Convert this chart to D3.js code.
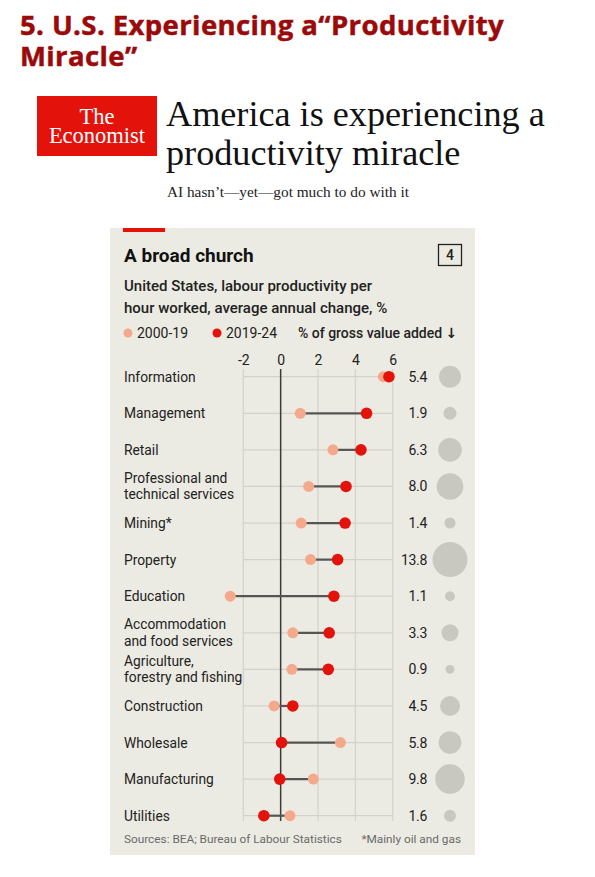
<!DOCTYPE html>
<html>
<head>
<meta charset="utf-8">
<script src="https://cdn.jsdelivr.net/npm/d3@7"></script>
<style>
  body { margin: 0; background: #fff; }
  svg { display: block; }
  .sans { font-family: Roboto, "Liberation Sans", sans-serif; }
  .serif { font-family: "Liberation Serif", "DejaVu Serif", serif; }
</style>
</head>
<body>
<svg id="chart" width="595" height="877"></svg>
<script>
const categories = [
  "Information", "Management", "Retail", "Professional and|technical services",
  "Mining*", "Property", "Education", "Accommodation|and food services",
  "Agriculture,|forestry and fishing", "Construction", "Wholesale",
  "Manufacturing", "Utilities"
];
const change2000to19 = [5.5, 1.05, 2.8, 1.5, 1.1, 1.6, -2.7, 0.65, 0.6, -0.35, 3.2, 1.75, 0.5];
const change2019to24 = [5.8, 4.6, 4.3, 3.5, 3.45, 3.05, 2.85, 2.6, 2.55, 0.65, 0.05, -0.05, -0.9];
const grossValueAdded = [5.4, 1.9, 6.3, 8.0, 1.4, 13.8, 1.1, 3.3, 0.9, 4.5, 5.8, 9.8, 1.6];
const xTicks = [-2, 0, 2, 4, 6];

const rows = categories.map((c, i) => ({
  name: c,
  early: change2000to19[i],
  late: change2019to24[i],
  gva: grossValueAdded[i]
}));

const svg = d3.select("#chart");

//=== Page header ===
const header = svg.append("text")
  .attr("font-family", "'Open Sans', sans-serif")
  .attr("font-weight", 700).attr("font-size", 27.5)
  .attr("letter-spacing", 0.4)
  .attr("fill", "#9b0a0a")
  .attr("stroke", "#9b0a0a").attr("stroke-width", 0.5);
header.append("tspan").attr("x", 20).attr("y", 35)
  .text("5. U.S. Experiencing a\u201CProductivity");
header.append("tspan").attr("x", 20).attr("y", 66)
  .text("Miracle\u201D");

// Economist logo
svg.append("rect")
  .attr("x", 37).attr("y", 96).attr("width", 120).attr("height", 60)
  .attr("fill", "#e3120b");
const logo = svg.append("text").attr("class", "serif")
  .attr("text-anchor", "middle")
  .attr("font-size", 22.5).attr("fill", "#fff");
logo.append("tspan").attr("x", 97).attr("y", 124).text("The");
logo.append("tspan").attr("x", 97).attr("y", 142.5).text("Economist");

const headline = svg.append("text").attr("class", "serif")
  .attr("font-size", 36.2).attr("fill", "#111");
headline.append("tspan").attr("x", 166).attr("y", 126).text("America is experiencing a");
headline.append("tspan").attr("x", 166).attr("y", 165).text("productivity miracle");
svg.append("text").attr("class", "serif")
  .attr("x", 167).attr("y", 197)
  .attr("font-size", 15.3).attr("fill", "#222")
  .text("AI hasn\u2019t\u2014yet\u2014got much to do with it");

//=== Chart panel ===
const panel = svg.append("g").attr("class", "sans");
panel.append("rect")
  .attr("x", 110).attr("y", 228).attr("width", 365).attr("height", 627)
  .attr("fill", "#ecebe3");
panel.append("rect")
  .attr("x", 123).attr("y", 228).attr("width", 42).attr("height", 4)
  .attr("fill", "#e3120b");

panel.append("text")
  .attr("x", 124).attr("y", 262)
  .attr("font-size", 19).attr("font-weight", 700).attr("fill", "#111")
  .text("A broad church");
panel.append("rect")
  .attr("x", 438.5).attr("y", 244.5).attr("width", 23).attr("height", 21)
  .attr("fill", "none").attr("stroke", "#222").attr("stroke-width", 1.3);
panel.append("text")
  .attr("x", 450).attr("y", 260).attr("text-anchor", "middle")
  .attr("font-size", 14).attr("font-weight", 500).attr("fill", "#222").text("4");

const sub = panel.append("text")
  .attr("font-size", 15).attr("font-weight", 500).attr("fill", "#222");
sub.append("tspan").attr("x", 124).attr("y", 291).text("United States, labour productivity per");
sub.append("tspan").attr("x", 124).attr("y", 313).text("hour worked, average annual change, %");

// legend
const pink = "#f5a98c";
const red = "#e3120b";
panel.append("circle").attr("cx", 128).attr("cy", 333).attr("r", 4.5).attr("fill", pink);
panel.append("text").attr("x", 137).attr("y", 338)
  .attr("font-size", 14).attr("fill", "#222").text("2000-19");
panel.append("circle").attr("cx", 217).attr("cy", 333).attr("r", 4.5).attr("fill", red);
panel.append("text").attr("x", 226).attr("y", 338)
  .attr("font-size", 14).attr("fill", "#222").text("2019-24");
const gvaLegend = panel.append("text").attr("x", 298).attr("y", 338)
  .attr("font-size", 14).attr("font-weight", 500).attr("fill", "#222");
gvaLegend.append("tspan").text("% of gross value added ");
gvaLegend.append("tspan")
  .attr("font-family", "'DejaVu Sans', sans-serif")
  .attr("font-weight", 700).attr("font-size", 14)
  .text("\u2193");

//=== Scales ===
const x = d3.scaleLinear().domain([-2, 6]).range([243.3, 392.7]);
const y = d3.scalePoint().domain(categories).range([376.7, 815.7]);
const r = d3.scaleSqrt().domain([0, 13.8]).range([0, 17.5]);

const gridTop = 369, gridBottom = 821;

// x axis labels on top
const xAxis = panel.append("g")
  .attr("transform", `translate(0,${gridTop})`)
  .call(d3.axisTop(x).tickValues(xTicks).tickSize(0).tickPadding(4).tickFormat(d => String(d)));
xAxis.select(".domain").remove();
xAxis.selectAll("text")
  .attr("font-family", "Roboto, sans-serif")
  .attr("font-size", 14).attr("fill", "#222");

// vertical grid
panel.append("g").selectAll("line")
  .data(xTicks.filter(d => d !== 0))
  .join("line")
  .attr("x1", d => x(d)).attr("x2", d => x(d))
  .attr("y1", gridTop).attr("y2", gridBottom)
  .attr("stroke", "#d3d2ca").attr("stroke-width", 1.2);

// horizontal grid
panel.append("g").selectAll("line")
  .data(rows)
  .join("line")
  .attr("x1", x(-2)).attr("x2", x(6))
  .attr("y1", d => y(d.name)).attr("y2", d => y(d.name))
  .attr("stroke", "#d3d2ca").attr("stroke-width", 1.2);

// zero line
panel.append("line")
  .attr("x1", x(0)).attr("x2", x(0))
  .attr("y1", gridTop).attr("y2", gridBottom)
  .attr("stroke", "#3a3a3a").attr("stroke-width", 1.5);

// category labels
const labels = panel.append("g").selectAll("text")
  .data(rows)
  .join("text")
  .attr("x", 124)
  .attr("font-size", 13.8).attr("fill", "#222");
labels.each(function (d) {
  const parts = d.name.split("|");
  const t = d3.select(this);
  const cy = y(d.name);
  if (parts.length === 1) {
    t.attr("y", cy + 5).text(parts[0]);
  } else {
    t.append("tspan").attr("x", 124).attr("y", cy - 3.5).text(parts[0]);
    t.append("tspan").attr("x", 124).attr("y", cy + 13).text(parts[1]);
  }
});

//=== Dumbbells ===
panel.append("g").selectAll("line")
  .data(rows)
  .join("line")
  .attr("x1", d => x(d.early)).attr("x2", d => x(d.late))
  .attr("y1", d => y(d.name)).attr("y2", d => y(d.name))
  .attr("stroke", "#555").attr("stroke-width", 2.2);

panel.append("g").selectAll("circle")
  .data(rows)
  .join("circle")
  .attr("cx", d => x(d.early)).attr("cy", d => y(d.name))
  .attr("r", 5.5).attr("fill", pink);

panel.append("g").selectAll("circle")
  .data(rows)
  .join("circle")
  .attr("cx", d => x(d.late)).attr("cy", d => y(d.name))
  .attr("r", 5.8).attr("fill", red);

//=== Gross value added ===
panel.append("g").selectAll("text")
  .data(rows)
  .join("text")
  .attr("x", 427).attr("y", d => y(d.name) + 5)
  .attr("text-anchor", "end")
  .attr("font-size", 14).attr("fill", "#222")
  .attr("letter-spacing", -0.3)
  .text(d => d3.format(".1f")(d.gva));

panel.append("g").selectAll("circle")
  .data(rows)
  .join("circle")
  .attr("cx", 450).attr("cy", d => y(d.name))
  .attr("r", d => r(d.gva))
  .attr("fill", "#c8c8c0");

//=== Footer ===
panel.append("text")
  .attr("x", 124).attr("y", 843)
  .attr("font-size", 11.8).attr("fill", "#6a6a6a")
  .text("Sources: BEA; Bureau of Labour Statistics");
panel.append("text")
  .attr("x", 461).attr("y", 843).attr("text-anchor", "end")
  .attr("font-size", 11.8).attr("fill", "#6a6a6a")
  .text("*Mainly oil and gas");
</script>
</body>
</html>
